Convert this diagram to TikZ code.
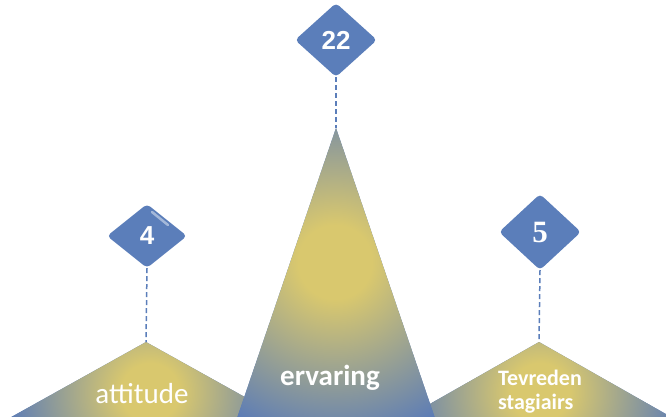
\documentclass[tikz,border=0pt]{standalone}
\usepackage{fontspec}
\setmainfont{Carlito}
\newfontfamily\digitsans{Liberation Sans}
\newfontfamily\digitserif{Liberation Serif}
\usetikzlibrary{shapes.geometric}
\definecolor{yel}{HTML}{D9C86E}
\definecolor{blu}{HTML}{5A7BB7}
\definecolor{dia}{HTML}{5B7EBA}
\pgfdeclareradialshading{trishade}{\pgfpoint{0bp}{0bp}}{color(0bp)=(yel); color(5bp)=(yel); color(25bp)=(blu); color(50bp)=(blu)}
\tikzset{
  badge/.style={diamond, fill=dia, rounded corners=4pt, inner sep=0pt, text=white, font=\digitsans\bfseries\fontsize{26}{30}\selectfont},
  dashline/.style={draw=dia, line width=1.5pt, dash pattern=on 5pt off 3pt},
  label/.style={text=white, inner sep=0pt}
}
\begin{document}
\begin{tikzpicture}[x=1pt, y=-1pt]
\useasboundingbox (0,0) rectangle (666,416);
\coordinate (aL) at (146,342);
\coordinate (aM) at (336,128);
\coordinate (aR) at (539,342);
\begin{scope}
  \clip (0,0) rectangle (666,416);
  % left triangle
  \begin{scope}
    \clip (aL) -- (-12,430) -- (304,430) -- cycle;
    \fill[blu] (-20,330) rectangle (320,440);
    \shade[shading=trishade] (150,392) circle (145);
  \end{scope}
  % right triangle
  \begin{scope}
    \clip (aR) -- (384,430) -- (694,430) -- cycle;
    \fill[blu] (370,330) rectangle (700,440);
    \shade[shading=trishade] (540,392) circle (145);
  \end{scope}
  % middle triangle
  \begin{scope}
    \clip (aM) -- (233,430) -- (439,430) -- cycle;
    \fill[blu] (220,120) rectangle (450,440);
    \shade[shading=trishade] (335,262) circle (185);
  \end{scope}
\end{scope}
% diamonds
\node[badge, minimum width=82pt, minimum height=74pt] (d22) at (336,40) {22};
\node[badge, minimum width=80pt, minimum height=64pt] (d4) at (147,236) {4};
\node[badge, minimum width=82pt, minimum height=76pt, font=\digitserif\bfseries\fontsize{31}{34}\selectfont] (d5) at (540,232) {5};
\draw[white, opacity=0.45, line width=2.5pt, line cap=round] (152,212) -- (168,225);
% connectors
\draw[dashline] (d22.south) -- (aM);
\draw[dashline] (d4.south) -- (aL);
\draw[dashline] (d5.south) -- (aR);
% labels
\node[label, font=\fontsize{29}{34}\selectfont] (tA) at (142,394) {attitude};
\node[label, font=\bfseries\fontsize{29}{34}\selectfont] (tE) at (330,378) {ervaring};
\node[label, font=\bfseries\fontsize{22}{24}\selectfont, align=left] (tT) at (540,392) {Tevreden\\stagiairs};
\end{tikzpicture}
\end{document}
